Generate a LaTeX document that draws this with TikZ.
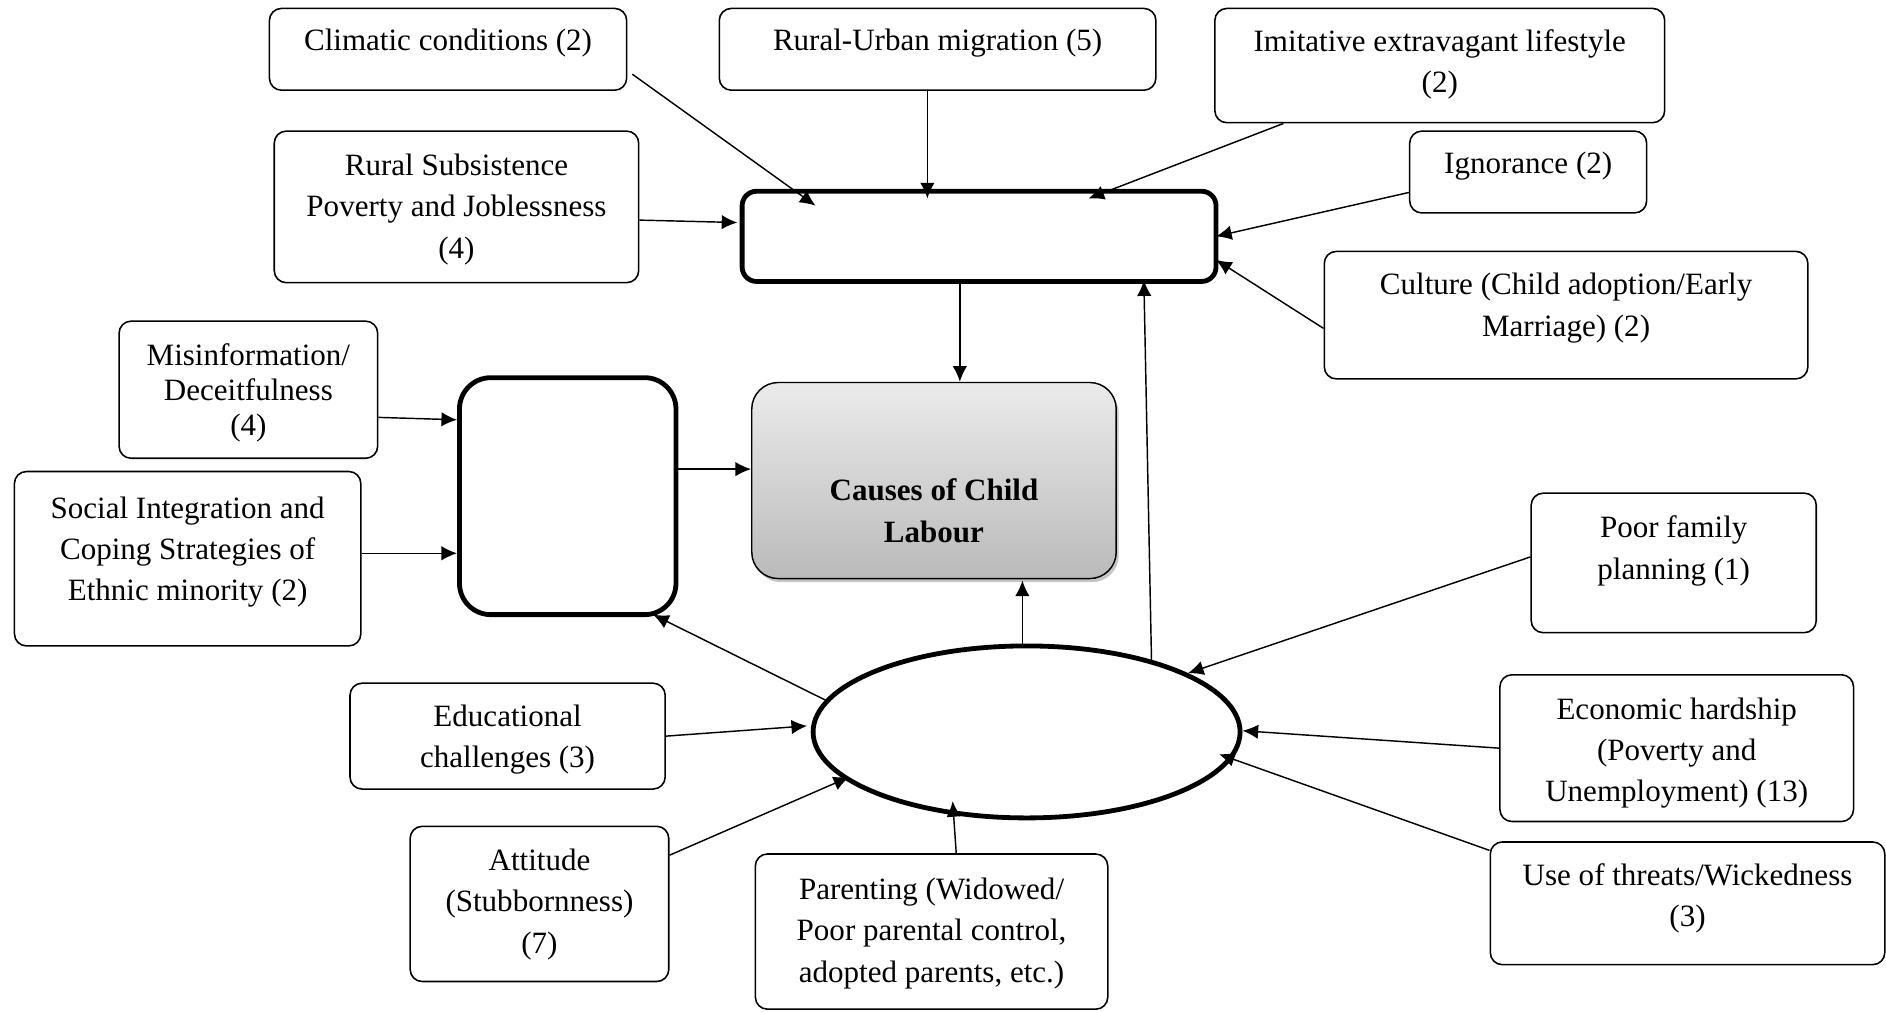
\documentclass[tikz,border=0pt]{standalone}
\usepackage{fontspec}
\setmainfont{Liberation Serif}
\usetikzlibrary{arrows.meta,calc,shapes.geometric,shadows}
\begin{document}
\begin{tikzpicture}[x=0.5pt,y=-0.5pt,
  bx/.style={draw, line width=0.65pt, rounded corners=5pt, inner sep=0pt},
  thk/.style={draw, line width=2pt, rounded corners=6pt, inner sep=0pt},
  txt/.style={align=center, inner sep=0pt, yshift=-1pt, font=\fontsize{12.9}{17.2}\selectfont},
  arr/.style={-{Latex[length=6.5pt,width=6pt]}, line width=0.6pt},
]
\useasboundingbox (0,0) rectangle (1568,841);
% top group
\node[bx, minimum width=148.5pt, minimum height=34pt] (clim) at (372.5,41) {};
\node[txt] (climt) at (372.5,34) {Climatic conditions (2)};
\node[bx, minimum width=181.5pt, minimum height=34pt] (rum) at (779.5,41) {};
\node[txt] (rumt) at (779.5,34) {Rural-Urban migration (5)};
\node[bx, minimum width=187pt, minimum height=47.5pt] (imit) at (1197,54.5) {};
\node[txt] (imitt) at (1197,51.5) {Imitative extravagant lifestyle\\(2)};
\node[bx, minimum width=151.5pt, minimum height=63pt] (rsp) at (379.5,172) {};
\node[txt] (rspt) at (379.5,172) {Rural Subsistence\\Poverty and Joblessness\\(4)};
\node[bx, minimum width=98.5pt, minimum height=34pt] (ign) at (1270.5,143) {};
\node[txt] (ignt) at (1270.5,136) {Ignorance (2)};
\node[bx, minimum width=201pt, minimum height=53pt] (cult) at (1302,262) {};
\node[txt] (cultt) at (1302,254) {Culture (Child adoption/Early\\Marriage) (2)};
\node[thk, minimum width=197pt, minimum height=37.5pt] (top) at (814,196.5) {};
% left group
\node[bx, minimum width=107.5pt, minimum height=57pt] (mis) at (206.5,324) {};
\node[txt, font=\fontsize{12.9}{14.5}\selectfont] (mist) at (206.5,324.5) {Misinformation/\\Deceitfulness\\(4)};
\node[thk, rounded corners=13pt, minimum width=90pt, minimum height=98.5pt] (left) at (472,412.5) {};
\node[bx, minimum width=144pt, minimum height=72.5pt] (soc) at (156,464.5) {};
\node[txt] (soct) at (156,457) {Social Integration and\\Coping Strategies of\\Ethnic minority (2)};
% centre
\node[draw, line width=0.6pt, rounded corners=11pt, top color=black!8, bottom color=black!27,
  drop shadow={shadow xshift=1pt, shadow yshift=-1.5pt, opacity=0.45},
  minimum width=151.5pt, minimum height=81.5pt, inner sep=0pt] (cau) at (776.5,399.5) {};
\node[txt, font=\fontsize{12.9}{17.2}\selectfont\bfseries] (caut) at (776.5,422.5) {Causes of Child\\Labour};
% ellipse group
\node[ellipse, draw, line width=2pt, minimum width=177.5pt, minimum height=71.5pt, inner sep=0pt] (ell) at (853.5,608.5) {};
\node[bx, minimum width=118.5pt, minimum height=58pt] (poor) at (1391.5,468) {};
\node[txt] (poort) at (1391.5,456) {Poor family\\planning (1)};
\node[bx, minimum width=131pt, minimum height=44pt] (edu) at (422,612) {};
\node[txt] (edut) at (422,613) {Educational\\challenges (3)};
\node[bx, minimum width=147pt, minimum height=61pt] (eco) at (1394,622) {};
\node[txt] (ecot) at (1394,624) {Economic hardship\\(Poverty and\\Unemployment) (13)};
\node[bx, minimum width=107.5pt, minimum height=64.5pt] (att) at (448.5,751.5) {};
\node[txt] (attt) at (448.5,750) {Attitude\\(Stubbornness)\\(7)};
\node[bx, minimum width=146.5pt, minimum height=64.5pt] (par) at (774.5,774.5) {};
\node[txt] (part) at (774.5,774) {Parenting (Widowed/\\Poor parental control,\\adopted parents, etc.)};
\node[bx, minimum width=164pt, minimum height=51pt] (thr) at (1403,751) {};
\node[txt] (thrt) at (1403,745) {Use of threats/Wickedness\\(3)};
% connectors
\draw[arr] ($(clim.south east)+(4,-14)$) -- ($(top.north west)+(63,14)$);
\draw[arr] ($(rum.south)+(-8.5,0)$) -- ($(top.north)+(-43,8)$);
\draw[arr] ($(imit.south)+(-130,0)$) -- ($(top.north)+(91,8)$);
\draw[arr] ($(rsp.east)+(0,11)$) -- ($(top.west)+(-2,-11.5)$);
\draw[arr] ($(ign.west)+(0,17)$) -- ($(top.east)+(-2,0)$);
\draw[arr] ($(cult.west)+(0,11)$) -- ($(top.east)+(-2,19.5)$);
\draw[arr] ($(top.south)+(-16,0)$) -- ($(cau.north)+(21.5,0)$);
\draw[arr] (ell.30) -- ($(top.south)+(137,-3)$);
\draw[arr] ($(mis.east)+(0,23)$) -- ($(left.west)+(0,-63.5)$);
\draw[arr] ($(soc.east)+(0,-4.5)$) -- ($(left.west)+(0,47.5)$);
\draw[arr] ($(left.east)+(-4,-22.5)$) -- ($(cau.west)+(0,-9.5)$);
\draw[arr] (ell.171) -- ($(left.south east)+(-21,-2)$);
\draw[arr] ($(ell.north)+(-3.5,0)$) -- ($(cau.south)+(73.5,1)$);
\draw[arr] ($(poor.west)+(0,-5)$) -- (ell.20);
\draw[arr] (edu.east) -- ($(ell.west)+(-3,-5)$);
\draw[arr] (eco.west) -- ($(ell.east)+(0,-1)$);
\draw[arr] ($(att.east)+(0,-40.5)$) -- ($(ell.west)+(32,37.5)$);
\draw[arr] ($(par.north)+(20.5,0)$) -- ($(ell.south)+(-61.5,-16)$);
\draw[arr] ($(thr.west)+(0,-44)$) -- ($(ell.east)+(-19.5,18.5)$);
\end{tikzpicture}
\end{document}
